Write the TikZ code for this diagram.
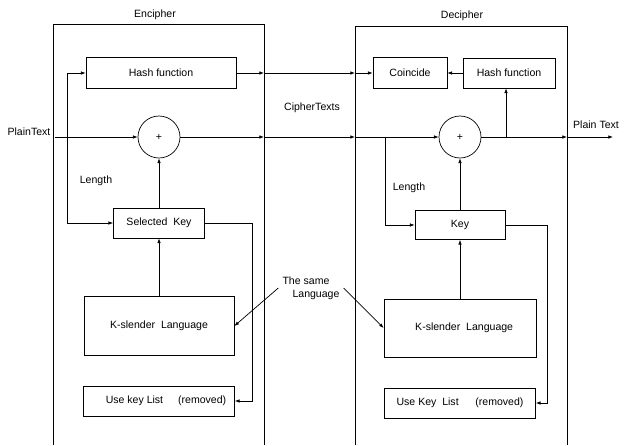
\documentclass[tikz,border=0pt]{standalone}
\usepackage{fontspec}
\setmainfont{Liberation Sans}
\usetikzlibrary{arrows.meta}

\begin{document}
\begin{tikzpicture}[x=0.03cm,y=-0.03cm,font=\fontsize{9}{11}\selectfont,line width=0.6pt,
  box/.style={draw,inner sep=2pt},
  xor/.style={draw,circle,minimum size=1.26cm,inner sep=0pt},
  arr/.style={-{Latex[length=4pt,width=3pt]}}]
\useasboundingbox (0,0) rectangle (624,445);

% the two frames, open at the bottom
\draw (53,445) |- (264,24) -- (264,445);
\draw (355,445) |- (567,26) -- (567,445);
\node (enc) at (155,15) {Encipher};
\node (dec) at (462,16) {Decipher};
\coordinate (encR) at (264,0);
\coordinate (decL) at (355,0);
\coordinate (decR) at (567,0);

% sender side
\node[box,minimum width=4.5cm,minimum height=0.93cm] (hashL) at (161,73) {Hash function};
\node[xor] (sumL) at (159,137) {+};
\node[box,minimum width=2.73cm,minimum height=0.9cm] (selKey) at (159,223) {Selected\ \ Key};
\node[box,minimum width=4.5cm,minimum height=1.77cm] (kslL) at (159,326) {K-slender\ \ Language};
\node[box,minimum width=4.53cm,minimum height=0.9cm] (useL) at (159,401) {\hspace*{0.42cm}Use key List\hspace{0.45cm}(removed)};
\node (plain) at (29,132) {PlainText};
\node (lenL) at (96,181) {Length};
\coordinate (tapL) at (67,137);

\draw[arr] (plain.east |- sumL.west) -- (sumL.west);
\draw[arr] (tapL) |- (hashL.west);
\draw[arr] (tapL) |- (selKey.west);
\draw[arr] (selKey.north) -- (sumL.south);
\draw[arr] (kslL.north) -- (selKey.south);
\draw[arr] (selKey.east) -- ++(47,0) |- (useL.east);

% channel
\node (cipher) at (312,108) {CipherTexts};
\draw[arr] (hashL.east) -- (hashL.east -| encR);
\draw[arr] (hashL.east -| encR) -- (hashL.east -| decL);
\draw[arr] (sumL.east) -- (sumL.east -| encR);
\draw[arr] (sumL.east -| encR) -- (sumL.east -| decL);

% receiver side
\node[box,minimum width=2.22cm,minimum height=0.93cm] (coin) at (410,73) {Coincide};
\node[box,minimum width=2.76cm,minimum height=0.9cm] (hashR) at (509,73) {Hash function};
\node[xor] (sumR) at (460,137) {+};
\node[box,minimum width=2.7cm,minimum height=0.87cm] (key) at (460,225) {Key};
\node[box,minimum width=4.56cm,minimum height=1.74cm] (kslR) at (460,328) {\hspace*{0.25cm}K-slender\ \ Language};
\node[box,minimum width=4.53cm,minimum height=0.9cm] (useR) at (460,403) {Use Key\ \ List\hspace{0.5cm}(removed)};
\node (lenR) at (409,188) {Length};
\node (plainOut) at (596,125) {Plain Text};
\coordinate (tapR) at (385,137);
\coordinate (outR) at (506,137);
\coordinate (pout) at (613,137);

\draw[arr] (hashL.east -| decL) -- (coin.west);
\draw[arr] (sumL.east -| decL) -- (sumR.west);
\draw[arr] (hashR.west) -- (coin.east);
\draw[arr] (tapR) |- (key.west);
\draw[arr] (key.north) -- (sumR.south);
\draw[arr] (kslR.north) -- (key.south);
\draw[arr] (outR) -- (outR |- hashR.south);
\draw[arr] (sumR.east) -- (sumR.east -| decR);
\draw[arr] (sumR.east -| decR) -- (pout);
\draw[arr] (key.east) -- ++(42,0) |- (useR.east);

% shared language
\node[align=left] (same) at (311,288) {The same\\\hspace*{0.3cm}Language};
\draw[arr] (same.west) -- (kslL.east);
\draw[arr] (same.east) -- (kslR.west);
\end{tikzpicture}
\end{document}
